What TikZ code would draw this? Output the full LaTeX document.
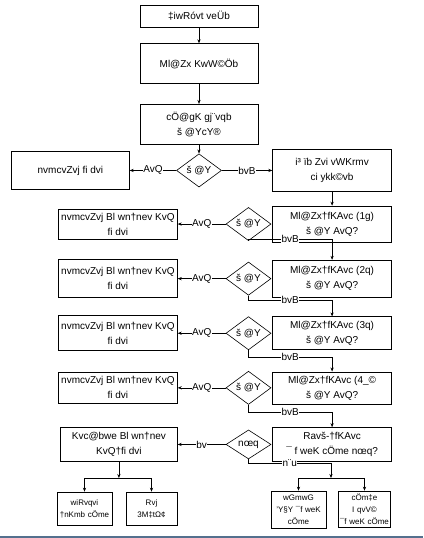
\documentclass[tikz,border=0pt]{standalone}
\usepackage{fontspec}
\setmainfont{Liberation Sans}
\usetikzlibrary{arrows.meta, positioning, shapes.geometric}
\definecolor{rulSlate}{RGB}{84,112,142}

\begin{document}
\begin{tikzpicture}[
    x=1pt, y=-1pt,
    box/.style={
      rectangle, draw=black, line width=0.6pt, fill=white,
      align=center, inner sep=1pt, font=\fontsize{10}{15}\selectfont
    },
    tinybox/.style={box, font=\fontsize{8}{12}\selectfont},
    dec/.style={
      diamond, draw=black, line width=0.6pt, fill=white, inner sep=0pt,
      minimum width=45pt, minimum height=29pt, font=\fontsize{10}{12}\selectfont
    },
    lbl/.style={fill=white, inner sep=0.5pt, font=\fontsize{10}{12}\selectfont},
    arr/.style={-{Stealth[length=4pt, width=3.2pt]}, line width=0.6pt}
  ]
    \useasboundingbox (0,0) rectangle (423,538);

    % main column
    \node[box, minimum width=118pt, minimum height=22pt] (reg) at (199,16) {‡iwRóvt veÜb};
    \node[box, minimum width=118pt, minimum height=40pt, below=16pt of reg] (check) {Ml@Zx KwW©Öb};
    \node[box, minimum width=118pt, minimum height=40pt, below=20pt of check] (eval) {cÖ@gK gj¨vqb\\š @YcY®};
    \node[dec, below=9pt of eval] (d0) {š @Y};
    \node[box, minimum width=118pt, minimum height=38pt, left=46.5pt of d0] (hospA) {nvmcvZvj fi dvi};
    \node[box, minimum width=119pt, minimum height=42pt, right=50.5pt of d0] (test) {i³ ïb Zvi vWKrmv\\ci ykk©vb};

    % check-up rows
    \node[box, minimum width=119pt, minimum height=36pt, below=14pt of test] (r1) {Ml@Zx†fKAvc (1g)\\š @Y AvQ?};
    \node[box, minimum width=119pt, minimum height=37pt, below=17.5pt of r1] (r2) {Ml@Zx†fKAvc (2q)\\š @Y AvQ?};
    \node[box, minimum width=119pt, minimum height=33pt, below=19pt of r2] (r3) {Ml@Zx†fKAvc (3q)\\š @Y AvQ?};
    \node[box, minimum width=119pt, minimum height=32pt, below=21.5pt of r3] (r4) {Ml@Zx†fKAvc (4\_©\\š @Y AvQ?};
    \node[box, minimum width=119pt, minimum height=34pt, below=23pt of r4] (r5) {Ravš-†fKAvc\\¯ f weK cÖme nœq?};

    \node[dec, left=1pt of r1] (d1) {š @Y};
    \node[dec, left=1pt of r2] (d2) {š @Y};
    \node[dec, left=1pt of r3] (d3) {š @Y};
    \node[dec, left=1pt of r4] (d4) {š @Y};
    \node[dec, left=1pt of r5] (d5) {nœq};

    \node[box, minimum width=119pt, minimum height=30pt, left=48pt of d1] (h1) {nvmcvZvj Bl wn†nev KvQ\\fi dvi};
    \node[box, minimum width=119pt, minimum height=38pt, left=48pt of d2] (h2) {nvmcvZvj Bl wn†nev KvQ\\fi dvi};
    \node[box, minimum width=119pt, minimum height=35pt, left=48pt of d3] (h3) {nvmcvZvj Bl wn†nev KvQ\\fi dvi};
    \node[box, minimum width=119pt, minimum height=31pt, left=48pt of d4] (h4) {nvmcvZvj Bl wn†nev KvQ\\fi dvi};
    \node[box, minimum width=117pt, minimum height=34pt, left=48pt of d5] (h5) {Kvc@bwe Bl wn†nev\\KvQ†fi dvi};

    % outcome boxes
    \node[tinybox, text width=53pt, minimum height=33pt] (bl1) at (84.5,508.5) {wiRvqvi\\†nKmb cÖme};
    \node[tinybox, text width=49pt, minimum height=33pt] (bl2) at (151.5,508.5) {Rvj\\3M‡tΩ¢};
    \node[tinybox, text width=53pt, minimum height=37pt] (br1) at (298.5,509.5) {wGmwG\\'Y§Y ¯f weK\\cÖme};
    \node[tinybox, text width=50pt, minimum height=36pt] (br2) at (364.5,509) {cÖm‡e I qvV©\\¯f weK cÖme};

    \coordinate (k1) at (0,239);
    \coordinate (k2) at (0,300);
    \coordinate (k3) at (0,357);
    \coordinate (k4) at (0,412);
    \coordinate (k5) at (0,463);
    \coordinate (kb) at (0,478);
    \coordinate (rb) at (331,478);

    \draw[arr] (reg) -- (check);
    \draw[arr] (check) -- (eval);
    \draw[arr] (eval) -- (d0);
    \draw[arr] (d0) -- node[lbl]{AvQ} (hospA);
    \draw[arr] (d0) -- node[lbl]{bvB} (test);
    \draw[arr] (test) -- (r1);

    \draw[arr] (d1) -- node[lbl]{AvQ} (h1);
    \draw[arr] (d2) -- node[lbl]{AvQ} (h2);
    \draw[arr] (d3) -- node[lbl]{AvQ} (h3);
    \draw[arr] (d4) -- node[lbl]{AvQ} (h4);
    \draw[arr] (d5) -- node[lbl]{bv} (h5);

    \draw[arr] (d1.south) -- (d1.south |- k1) -| node[lbl, pos=0.25]{bvB} (r2.north);
    \draw[arr] (d2.south) -- (d2.south |- k2) -| node[lbl, pos=0.25]{bvB} (r3.north);
    \draw[arr] (d3.south) -- (d3.south |- k3) -| node[lbl, pos=0.25]{bvB} (r4.north);
    \draw[arr] (d4.south) -- (d4.south |- k4) -| node[lbl, pos=0.25]{bvB} (r5.north);
    \draw[arr] (d5.south) -- (d5.south |- k5) -| node[lbl, pos=0.25]{n¨u} (rb);

    \draw[arr] (h5.south) -- (h5.south |- kb);
    \draw[arr] (h5.south |- kb) -| (bl1.north);
    \draw[arr] (h5.south |- kb) -| (bl2.north);
    \draw[arr] (rb) -| (br1.north);
    \draw[arr] (rb) -| (br2.north);

    \draw[rulSlate, line width=2pt] (0,536.5) -- (423,536.5);
  \end{tikzpicture}
\end{document}
